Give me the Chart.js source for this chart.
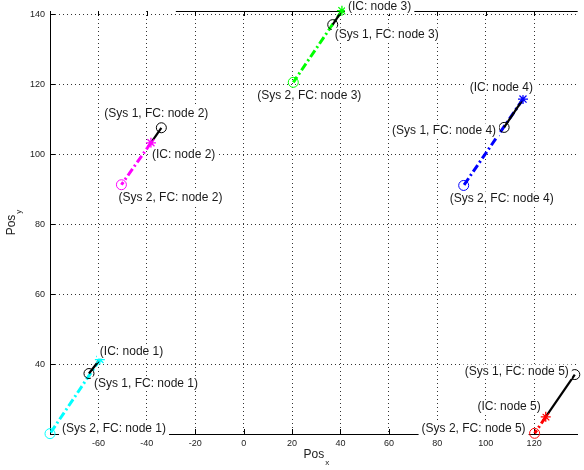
<!DOCTYPE html>
<html>
<head>
<meta charset="UTF-8">
<title>Node positions</title>
<script src="https://cdn.jsdelivr.net/npm/chart.js"></script>
<style>
  html, body { margin: 0; padding: 0; background: #fff; overflow: hidden; }
</style>
</head>
<body>
<canvas id="posChart" width="584" height="470"></canvas>
<script>
// --- data ---
const nodeNames = ['node 1', 'node 2', 'node 3', 'node 4', 'node 5'];
// initial conditions
const icX = [-59.4, -38.3, 40.6, 115.4, 124.8];
const icY = [41.3, 103.3, 141.1, 115.8, 24.9];
// Sys 1 final condition
const fc1X = [-63.9, -34.0, 36.8, 107.6, 136.8];
const fc1Y = [37.3, 107.6, 137.1, 107.7, 37.0];
// Sys 2 final condition
const fc2X = [-80.0, -50.5, 20.5, 90.9, 120.2];
const fc2Y = [20.1, 91.3, 120.6, 91.1, 20.2];
const xTickVals = [-60, -40, -20, 0, 20, 40, 60, 80, 100, 120];
const yTickVals = [40, 60, 80, 100, 120, 140];

// --- styling ---
const nodeColors = ['#00ffff', '#ff00ff', '#00ff00', '#0000ff', '#ff0000'];
const FONT = '"Liberation Sans", Arial, sans-serif';
// label placement: [align, dx, dy] in pixels from the point
const icLabelPos  = [['left', 0, -8], ['left', 1, 12], ['left', 6, -4], ['right', 10, -11], ['right', -5, -10]];
const fc1LabelPos = [['left', 5, 10], ['center', -5, -14], ['left', 2, 10], ['right', -8, 3], ['right', -6, -3]];
const fc2LabelPos = [['left', 12, -5], ['left', -3, 13], ['left', -36, 13], ['left', -14, 13], ['right', -9, -5]];

const datasets = [];
nodeNames.forEach((n, i) => {
  const ic = { x: icX[i], y: icY[i] };
  const f1 = { x: fc1X[i], y: fc1Y[i] };
  const f2 = { x: fc2X[i], y: fc2Y[i] };
  datasets.push({ data: [ic, f2], showLine: true, borderColor: nodeColors[i], borderWidth: 3,
    borderDash: [8, 3, 2, 3], pointRadius: 0, order: 5 });
  datasets.push({ data: [ic, f1], showLine: true, borderColor: '#000', borderWidth: 2.2,
    pointRadius: 0, order: 4 });
  datasets.push({ data: [ic], pointStyle: 'star', pointRadius: 5, borderColor: nodeColors[i],
    borderWidth: 1.3, clip: false, order: 1 });
  datasets.push({ data: [f1], pointStyle: 'circle', pointRadius: 5, borderColor: '#000',
    backgroundColor: 'rgba(0,0,0,0)', borderWidth: 1, clip: false, order: 2 });
  datasets.push({ data: [f2], pointStyle: 'circle', pointRadius: 5, borderColor: nodeColors[i],
    backgroundColor: 'rgba(0,0,0,0)', borderWidth: 1, clip: false, order: 2 });
});

// inward tick marks + top box line
const boxPlugin = {
  id: 'box',
  beforeDatasetsDraw(chart) {
    const { ctx, chartArea: a, scales: { x, y } } = chart;
    ctx.save();
    ctx.strokeStyle = '#000';
    ctx.lineWidth = 1;
    ctx.beginPath();
    ctx.moveTo(x.getPixelForValue(-28), a.top + 0.5);
    ctx.lineTo(a.right, a.top + 0.5);
    xTickVals.forEach(v => {
      const px = Math.round(x.getPixelForValue(v)) + 0.5;
      ctx.moveTo(px, a.bottom); ctx.lineTo(px, a.bottom - 5);
      ctx.moveTo(px, a.top); ctx.lineTo(px, a.top + 5);
    });
    yTickVals.forEach(v => {
      const py = Math.round(y.getPixelForValue(v)) + 0.5;
      ctx.moveTo(a.left, py); ctx.lineTo(a.left + 5, py);
    });
    ctx.stroke();
    ctx.restore();
  }
};

function drawLabel(ctx, text, px, py, pos) {
  const [align, dx, dy] = pos;
  ctx.font = '12px ' + FONT;
  const w = ctx.measureText(text).width;
  let left = px + dx;
  if (align === 'right') left = px + dx - w;
  if (align === 'center') left = px + dx - w / 2;
  const cy = py + dy;
  ctx.fillStyle = '#fff';
  ctx.fillRect(left - 3, cy - 7, w + 6, 14);
  ctx.fillStyle = '#1a1a1a';
  ctx.textBaseline = 'middle';
  ctx.textAlign = 'left';
  ctx.fillText(text, left, cy);
}

const labelPlugin = {
  id: 'labels',
  afterDatasetsDraw(chart) {
    const { ctx, scales: { x, y } } = chart;
    ctx.save();
    nodeNames.forEach((n, i) => {
      drawLabel(ctx, '(IC: ' + n + ')', x.getPixelForValue(icX[i]), y.getPixelForValue(icY[i]), icLabelPos[i]);
      drawLabel(ctx, '(Sys 1, FC: ' + n + ')', x.getPixelForValue(fc1X[i]), y.getPixelForValue(fc1Y[i]), fc1LabelPos[i]);
      drawLabel(ctx, '(Sys 2, FC: ' + n + ')', x.getPixelForValue(fc2X[i]), y.getPixelForValue(fc2Y[i]), fc2LabelPos[i]);
    });
    ctx.restore();
  },
  afterDraw(chart) {
    // axis titles with subscripts
    const { ctx, chartArea: a } = chart;
    ctx.save();
    ctx.fillStyle = '#222';
    ctx.textBaseline = 'middle';
    ctx.textAlign = 'left';
    ctx.font = '12px ' + FONT;
    const wPos = ctx.measureText('Pos').width;
    ctx.font = '8px ' + FONT;
    const wSub = ctx.measureText('x').width;
    let left = (a.left + a.right + 5) / 2 - (wPos + wSub + 1) / 2;
    ctx.font = '12px ' + FONT;
    ctx.fillText('Pos', left, 455);
    ctx.font = '8px ' + FONT;
    ctx.fillText('x', left + wPos + 1, 463);
    ctx.translate(12, (a.top + a.bottom) / 2);
    ctx.rotate(-Math.PI / 2);
    ctx.font = '12px ' + FONT;
    left = -(wPos + wSub + 1) / 2;
    ctx.fillText('Pos', left, 0);
    ctx.font = '8px ' + FONT;
    ctx.fillText('y', left + wPos + 1, 7);
    ctx.restore();
  }
};

new Chart(document.getElementById('posChart'), {
  type: 'scatter',
  data: { datasets },
  options: {
    responsive: false,
    animation: false,
    events: [],
    layout: { padding: { top: 11, right: 0, left: 0, bottom: 0 } },
    plugins: { legend: { display: false }, tooltip: { enabled: false } },
    scales: {
      x: {
        type: 'linear', min: -80, max: 138,
        afterBuildTicks: s => { s.ticks = xTickVals.map(v => ({ value: v })); },
        afterFit: s => { s.height = 36; },
        grid: { color: 'rgba(0,0,0,0.8)', lineWidth: 1, drawTicks: false },
        border: { display: true, color: '#000', width: 1, dash: [1, 3] },
        ticks: { color: '#222', font: { size: 9, family: FONT }, padding: 4, maxRotation: 0,
          callback: v => String(v) }
      },
      y: {
        type: 'linear', min: 20, max: 141,
        afterBuildTicks: s => { s.ticks = yTickVals.map(v => ({ value: v })); },
        afterFit: s => { s.width = 50; },
        grid: { color: 'rgba(0,0,0,0.8)', lineWidth: 1, drawTicks: false },
        border: { display: true, color: '#000', width: 1, dash: [1, 3] },
        ticks: { color: '#222', font: { size: 9, family: FONT }, padding: 5,
          callback: v => String(v) }
      }
    }
  },
  plugins: [boxPlugin, labelPlugin]
});
</script>
</body>
</html>
